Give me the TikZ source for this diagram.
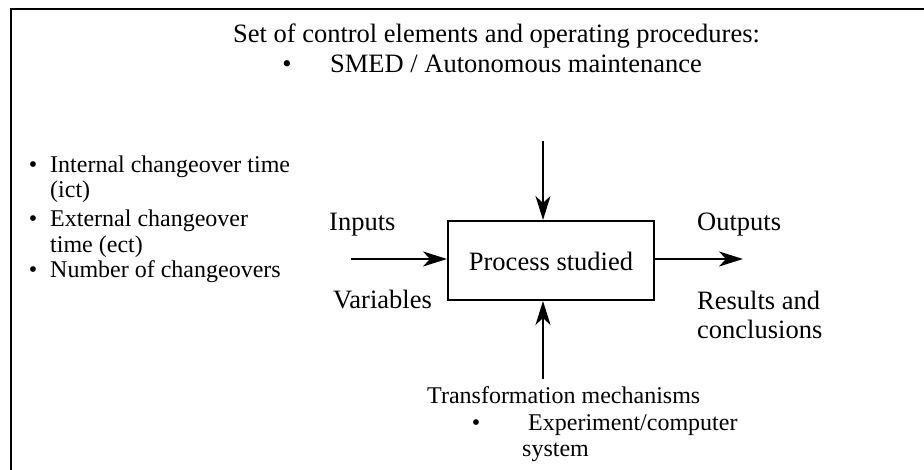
\documentclass[tikz,border=0pt]{standalone}
\usepackage{fontspec}
\setmainfont{Liberation Serif}
\usetikzlibrary{arrows.meta}
\begin{document}
\begin{tikzpicture}[x=1pt,y=-1pt,
  txt/.style={font=\fontsize{26.5}{31}\selectfont, inner sep=0pt, anchor=base west},
  stxt/.style={font=\fontsize{24}{28}\selectfont, inner sep=0pt, anchor=base west},
  bul/.style={font=\fontsize{26.5}{31}\selectfont, inner sep=0pt, anchor=base},
  sbul/.style={font=\fontsize{24}{28}\selectfont, inner sep=0pt, anchor=base},
  arr/.style={line width=2pt, -{Stealth[length=24pt,width=15pt,inset=7pt]}}]
\useasboundingbox (0,0) rectangle (924,470);
\draw[line width=2pt] (11,470) -- (11,9) -- (924,9);
% title
\node[txt, anchor=base] (title) at (496.5,43) {Set of control elements and operating procedures:};
\node[bul] (b0) at (287,73) {•};
\node[txt] (smed) at (330,73) {SMED / Autonomous maintenance};
% left list
\node[sbul] (b1) at (33,173) {•};
\node[stxt] (l1) at (50,173) {Internal changeover time};
\node[stxt] (l1b) at (50,198) {(ict)};
\node[sbul] (b2) at (33,227) {•};
\node[stxt] (l2) at (50,227) {External changeover};
\node[stxt] (l2b) at (50,253) {time (ect)};
\node[sbul] (b3) at (33,278) {•};
\node[stxt] (l3) at (50,278) {Number of changeovers};
% process box
\node[draw, line width=2pt, minimum width=206pt, minimum height=79pt, inner sep=0pt,
  font=\fontsize{26.5}{31}\selectfont, text height=25pt, text depth=5pt] (proc) at (551,260.5) {Process studied};
% arrows
\coordinate (topin) at (543,141);
\coordinate (botin) at (543,379);
\coordinate (inL) at (351,259);
\coordinate (outR) at (743,259);
\draw[arr] (topin) -- (topin |- proc.north);
\draw[arr] (botin) -- (botin |- proc.south);
\draw[arr] (inL) -- (inL -| proc.west);
\draw[arr] (proc.east |- outR) -- (outR);
% labels
\node[txt] (inputs) at (329,231) {Inputs};
\node[txt] (vars) at (333,309) {Variables};
\node[txt] (outputs) at (697,231) {Outputs};
\node[txt] (res) at (697,310) {Results and};
\node[txt] (concl) at (697,338) {conclusions};
\node[stxt] (trans) at (427,403) {Transformation mechanisms};
\node[sbul] (b4) at (476,430) {•};
\node[stxt] (exp) at (528,430) {Experiment/computer};
\node[stxt] (sys) at (522,456) {system};
\end{tikzpicture}
\end{document}
